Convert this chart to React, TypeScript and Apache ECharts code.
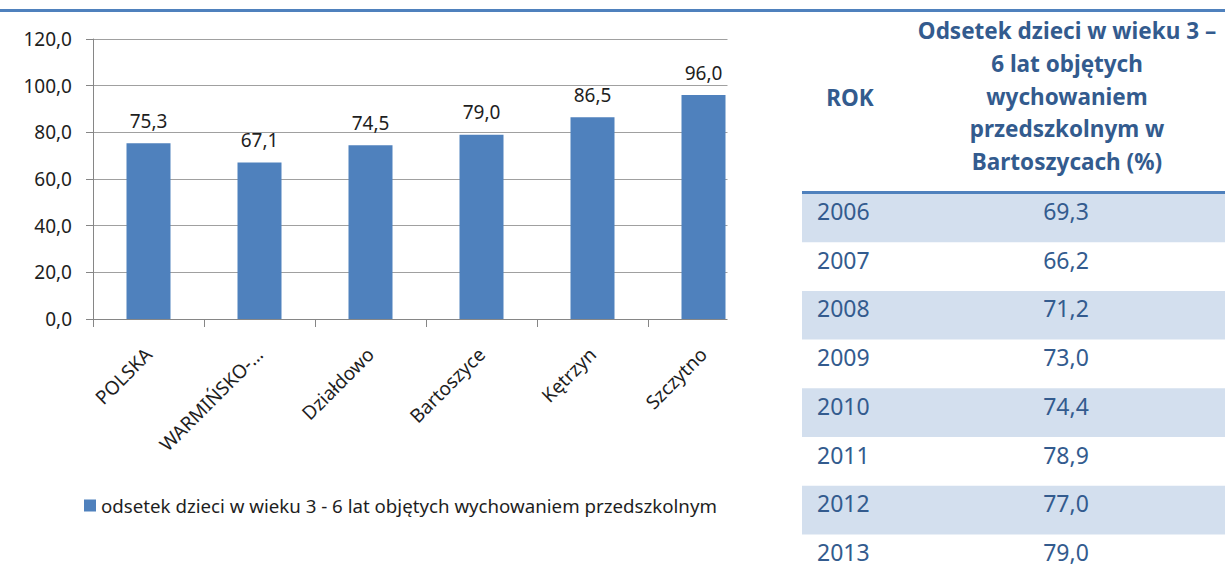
import React, { useEffect, useRef } from "react";
import * as echarts from "echarts";

const categories = ["POLSKA", "WARMIŃSKO-…", "Działdowo", "Bartoszyce", "Kętrzyn", "Szczytno"];
const seriesValues = [75.3, 67.1, 74.5, 79.0, 86.5, 96.0];
const seriesName = "odsetek dzieci w wieku 3 - 6 lat objętych wychowaniem przedszkolnym";
const yTicks = { min: 0, max: 120, interval: 20 };

const tableHeaderYear = "ROK";
const tableHeaderValueLines = [
  "Odsetek dzieci w wieku 3 –",
  "6 lat objętych",
  "wychowaniem",
  "przedszkolnym w",
  "Bartoszycach (%)",
];
const tableYears = ["2006", "2007", "2008", "2009", "2010", "2011", "2012", "2013"];
const tableValues = [69.3, 66.2, 71.2, 73.0, 74.4, 78.9, 77.0, 79.0];

const fmt = (v: number) => v.toFixed(1).replace(".", ",");

const FONT = "'Noto Sans', 'Open Sans', sans-serif";
const BLUE = "#4F81BD";
const TABLE_TEXT = "#335B8E";
const BAND = "#D3DFEE";
const TEXT = "#1e1e1e";

export default function App() {
  const ref = useRef<HTMLDivElement>(null);

  useEffect(() => {
    if (!ref.current) return;
    const chart = echarts.init(ref.current, undefined, { renderer: "svg" });

    const tableLeft = 802;
    const tableRight = 1225;
    const rowTop = 193.5;
    const rowH = 48.7;

    const tableElements: any[] = [];
    tableYears.forEach((yr, i) => {
      const top = rowTop + i * rowH;
      if (i % 2 === 0) {
        tableElements.push({
          type: "rect",
          shape: { x: tableLeft, y: top, width: tableRight - tableLeft, height: rowH },
          style: { fill: BAND },
          z: 1,
        });
      }
      tableElements.push({
        type: "text",
        x: 817,
        y: top + 17.5,
        style: {
          text: yr,
          font: `23px ${FONT}`,
          fill: TABLE_TEXT,
          align: "left",
          verticalAlign: "middle",
        },
        z: 2,
      });
      tableElements.push({
        type: "text",
        x: 1066,
        y: top + 17.5,
        style: {
          text: fmt(tableValues[i]),
          font: `23px ${FONT}`,
          fill: TABLE_TEXT,
          align: "center",
          verticalAlign: "middle",
        },
        z: 2,
      });
    });

    const option: any = {
      animation: false,
      backgroundColor: "#ffffff",
      textStyle: { fontFamily: FONT },
      grid: { left: 93, top: 39, width: 666, height: 280, containLabel: false },
      legend: {
        data: [seriesName],
        left: 84,
        top: 496,
        padding: 0,
        icon: "rect",
        itemWidth: 12,
        itemHeight: 12,
        textStyle: { fontSize: 18.7, color: TEXT, fontFamily: FONT },
      },
      xAxis: {
        type: "category",
        data: categories,
        axisLine: { lineStyle: { color: "#868686", width: 1 } },
        axisTick: { show: true, length: 8, interval: 0, lineStyle: { color: "#868686" } },
        axisLabel: {
          interval: 0,
          rotate: 45,
          margin: 32,
          fontSize: 19,
          color: TEXT,
          fontFamily: FONT,
        },
        splitLine: { show: false },
      },
      yAxis: {
        type: "value",
        min: yTicks.min,
        max: yTicks.max,
        interval: yTicks.interval,
        axisLine: { show: true, lineStyle: { color: "#868686", width: 1 } },
        axisTick: { show: true, length: 7, lineStyle: { color: "#868686" } },
        axisLabel: {
          margin: 21,
          fontSize: 19,
          color: TEXT,
          fontFamily: FONT,
          formatter: (v: number) => fmt(v),
        },
        splitLine: { show: true, lineStyle: { color: "#a0a0a0", width: 1 } },
      },
      series: [
        {
          name: seriesName,
          type: "bar",
          data: seriesValues,
          barWidth: 44,
          itemStyle: { color: BLUE },
          label: {
            show: true,
            position: "top",
            distance: 13,
            fontSize: 19,
            color: TEXT,
            fontFamily: FONT,
            formatter: (p: any) => fmt(p.value),
          },
        },
      ],
      graphic: [
        {
          type: "rect",
          shape: { x: 727.5, y: 22, width: 74, height: 320 },
          style: { fill: "#ffffff" },
          z: 100,
        },
        {
          type: "line",
          shape: { x1: 0, y1: 10.5, x2: 1225, y2: 10.5 },
          style: { stroke: BLUE, lineWidth: 3 },
          z: 101,
        },
        {
          type: "line",
          shape: { x1: tableLeft, y1: 192.5, x2: tableRight, y2: 192.5 },
          style: { stroke: BLUE, lineWidth: 3 },
          z: 101,
        },
        {
          type: "text",
          x: 850,
          y: 97,
          style: {
            text: tableHeaderYear,
            font: `bold 22.5px ${FONT}`,
            fill: TABLE_TEXT,
            align: "center",
            verticalAlign: "middle",
          },
          z: 101,
        },
        {
          type: "text",
          x: 1067,
          y: 96,
          style: {
            text: tableHeaderValueLines.join("\n"),
            font: `bold 22.5px ${FONT}`,
            fill: TABLE_TEXT,
            align: "center",
            verticalAlign: "middle",
            lineHeight: 32.7,
          },
          z: 101,
        },
        ...tableElements,
      ],
    };

    chart.setOption(option);
    return () => chart.dispose();
  }, []);

  return (
    <div
      ref={ref}
      style={{ position: "fixed", left: 0, top: 0, width: 1225, height: 576 }}
    />
  );
}
